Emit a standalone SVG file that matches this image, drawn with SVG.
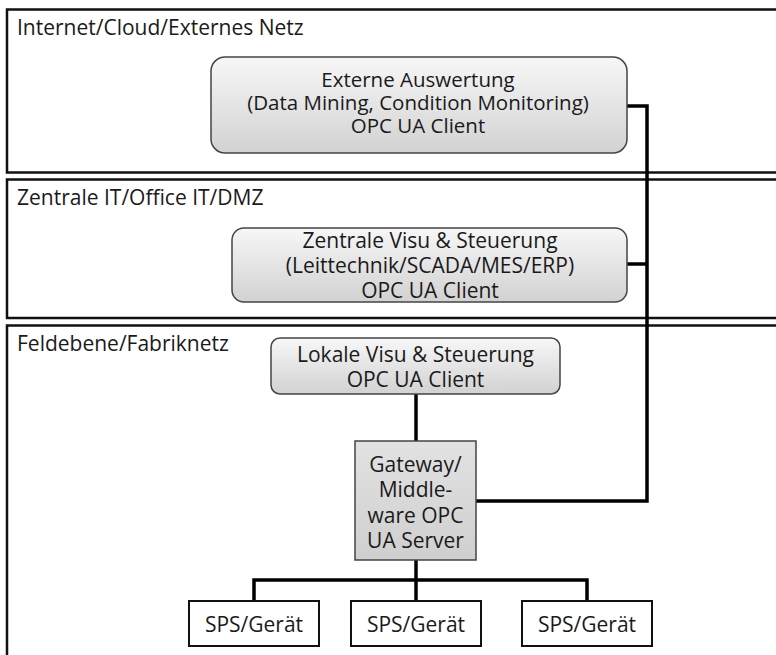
<svg xmlns="http://www.w3.org/2000/svg" width="776" height="655" viewBox="0 0 776 655">
<defs>
<linearGradient id="gBox" x1="0" y1="0" x2="0" y2="1">
<stop offset="0" stop-color="#f7f7f7"/>
<stop offset="1" stop-color="#d2d2d2"/>
</linearGradient>
<linearGradient id="gGw" x1="0" y1="0" x2="0" y2="1">
<stop offset="0" stop-color="#e2e2e2"/>
<stop offset="1" stop-color="#cfcfcf"/>
</linearGradient>
</defs>
<style>
text{font-family:"Open Sans","Noto Sans","Liberation Sans",sans-serif;font-size:21px;fill:#1a1a1a}
.mid{text-anchor:middle}
.sm{font-size:20.5px}
.zone{fill:#fff;stroke:#111;stroke-width:2.5}
.rbox{fill:url(#gBox);stroke:#444;stroke-width:1.5}
.gw{fill:url(#gGw);stroke:#444;stroke-width:1.5}
.sps{fill:#fff;stroke:#111;stroke-width:2}
.conn{fill:none;stroke:#000;stroke-width:3.5}
</style>
<rect width="776" height="655" fill="#fff"/>
<g id="zone-internet">
<rect class="zone" x="7" y="9.5" width="800" height="163"/>
<text x="17" y="35">Internet/Cloud/Externes Netz</text>
</g>
<g id="zone-zentral">
<rect class="zone" x="7" y="179.5" width="800" height="138.5"/>
<text x="17" y="205">Zentrale IT/Office IT/DMZ</text>
</g>
<g id="zone-feld">
<rect class="zone" x="7" y="325.5" width="800" height="360"/>
<text x="17" y="351">Feldebene/Fabriknetz</text>
</g>
<g id="connectors">
<polyline class="conn" points="627,106 647,106 647,501 476,501"/>
<line class="conn" x1="627" y1="264" x2="647" y2="264"/>
<line class="conn" x1="416" y1="394" x2="416" y2="441"/>
<line class="conn" x1="416" y1="560" x2="416" y2="601"/>
<polyline class="conn" points="254,601 254,580 587,580 587,601"/>
</g>
<g id="node-extern">
<rect class="rbox" x="211" y="57" width="416" height="96" rx="14"/>
<text class="mid sm" x="418" y="87">Externe Auswertung</text>
<text class="mid sm" x="418" y="110">(Data Mining, Condition Monitoring)</text>
<text class="mid sm" x="418" y="133">OPC UA Client</text>
</g>
<g id="node-zentral">
<rect class="rbox" x="232" y="228" width="395" height="74" rx="12"/>
<text class="mid" x="430" y="248">Zentrale Visu &amp; Steuerung</text>
<text class="mid" x="430" y="273">(Leittechnik/SCADA/MES/ERP)</text>
<text class="mid" x="430" y="298">OPC UA Client</text>
</g>
<g id="node-lokal">
<rect class="rbox" x="271" y="338" width="289" height="56" rx="9"/>
<text class="mid" x="415.5" y="362">Lokale Visu &amp; Steuerung</text>
<text class="mid" x="415.5" y="387">OPC UA Client</text>
</g>
<g id="node-gateway">
<rect class="gw" x="355" y="441" width="121" height="119"/>
<text class="mid" x="415.5" y="472">Gateway/</text>
<text class="mid" x="415.5" y="497">Middle-</text>
<text class="mid" x="415.5" y="523">ware OPC</text>
<text class="mid" x="415.5" y="548">UA Server</text>
</g>
<g id="node-sps1">
<rect class="sps" x="189" y="601" width="130" height="45"/>
<text class="mid" x="254" y="632">SPS/Gerät</text>
</g>
<g id="node-sps2">
<rect class="sps" x="351" y="601" width="130" height="45"/>
<text class="mid" x="416" y="632">SPS/Gerät</text>
</g>
<g id="node-sps3">
<rect class="sps" x="522" y="601" width="130" height="45"/>
<text class="mid" x="587" y="632">SPS/Gerät</text>
</g>
</svg>
